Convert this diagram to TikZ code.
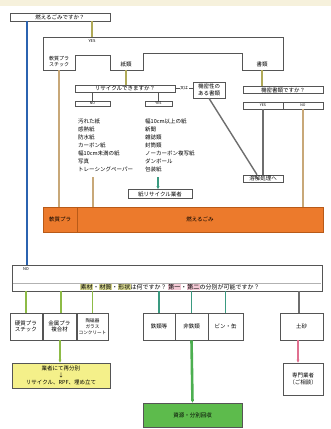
\documentclass[tikz,border=0pt]{standalone}
\usepackage{fontspec}
\setmainfont{Noto Sans CJK JP}
\usetikzlibrary{arrows.meta}
\definecolor{cream}{HTML}{F6F1DC}
\definecolor{olive}{HTML}{B0AA58}
\definecolor{tanl}{HTML}{C8A878}
\definecolor{bluel}{HTML}{2B63B0}
\definecolor{tealcol}{HTML}{3A9A80}
\definecolor{grayl}{HTML}{6E6E6E}
\definecolor{pinkl}{HTML}{E07090}
\definecolor{greenl}{HTML}{4CAF50}
\definecolor{greenf}{HTML}{5DBB4C}
\definecolor{yellowf}{HTML}{F4F08A}
\definecolor{orangef}{HTML}{EC7A2C}
\definecolor{oranged}{HTML}{B85A18}
\definecolor{boxd}{HTML}{555555}
\definecolor{hlA}{HTML}{D8D890}
\definecolor{hlB}{HTML}{F2C8D4}
\newcommand{\hlw}[2]{{\setlength{\fboxsep}{0.4pt}\colorbox{#1}{#2}}}
\begin{document}
\begin{tikzpicture}[x=1pt,y=-1pt,
  every node/.style={font=\fontsize{5.5}{6.5}\selectfont, inner sep=0pt},
  bx/.style={draw=boxd, line width=0.6pt, fill=white, minimum width=#1, align=center},
  lbl/.style={font=\fontsize{4}{5}\selectfont},
  olv/.style={draw=olive, line width=1.6pt},
  lolv/.style={draw=olive!80!green, line width=1.6pt},
  tanc/.style={draw=tanl, line width=1.6pt},
  tealln/.style={draw=tealcol, line width=1.6pt},
  grc/.style={draw=grayl, line width=1.4pt},
  thinln/.style={draw=boxd, line width=0.5pt},
  arr/.style={-{Stealth[length=3pt,width=3pt]}}
]
\useasboundingbox (0,0) rectangle (331,429);
\fill[white] (0,0) rectangle (331,429);
\fill[cream] (0,0) rectangle (331,6);

% ---------- upper part ----------
\node[bx=100pt, minimum height=8pt] (q1) at (60,17) {燃えるごみですか？};
\node[lbl] (yes1) at (92,41) {YES};

% branching container
\draw[boxd, line width=0.7pt] (43,37) -- (283,37) -- (283,70) -- (242,70) -- (242,53)
  -- (143,53) -- (143,70) -- (110,70) -- (110,55) -- (75,55) -- (75,70) -- (43,70) -- cycle;
\coordinate (ctop) at (92,37);
\coordinate (softTab) at (59,70);
\coordinate (paperTab) at (126,70);
\coordinate (docTab) at (262,70);
\node[align=left, font=\fontsize{5}{6}\selectfont] (soft) at (59,62) {軟質プラ\\スチック};
\node (paper) at (126,64.5) {紙類};
\node (doc) at (262,64.5) {書類};

\draw[olv] (q1.south -| ctop) -- (ctop);

% paper branch
\node[bx=100pt, minimum height=7pt] (recyc) at (125,88.5) {リサイクルできますか？};
\node[bx=35pt, minimum height=5pt, font=\fontsize{3.5}{4}\selectfont] (pno) at (92.5,103.5) {NO};
\node[bx=27pt, minimum height=5pt, font=\fontsize{3.5}{4}\selectfont] (pyes) at (158.5,103.5) {YES};
\draw[olv] (paperTab) -- (recyc.north -| paperTab);
\draw[thinln] (recyc.south -| pno) -- (pno.north);
\draw[thinln] (recyc.south -| pyes) -- (pyes.north);

\node[align=left, anchor=north west, font=\fontsize{5.5}{8}\selectfont] (listNo) at (78,119)
 {汚れた紙\\感熱紙\\防水紙\\カーボン紙\\幅10cm未満の紙\\写真\\トレーシングペーパー};
\node[align=left, anchor=north west, font=\fontsize{5.5}{8}\selectfont] (listYes) at (145,119)
 {幅10cm以上の紙\\新聞\\雑誌類\\封筒類\\ノーカーボン複写紙\\ダンボール\\包装紙};

\node[bx=64pt, minimum height=9pt, line width=0.9pt] (recBiz) at (160,194) {紙リサイクル業者};
\coordinate (tealTop) at (158,177);
\draw[tealln, arr] (tealTop) -- (recBiz.north -| tealTop);

\node[bx=32pt, minimum height=16pt, align=left] (kim) at (209,90) {機密性の\\ある書類};
\draw[thinln] (recyc.east) -- (recyc.east -| kim.west) node[midway, fill=white, inner sep=0.5pt, lbl] {又は};

% document branch
\node[bx=80pt, minimum height=7pt] (kq) at (283,90) {機密書類ですか？};
\node[bx=40pt, minimum height=7pt, font=\fontsize{3.5}{4}\selectfont] (kyes) at (263,105.5) {YES};
\node[bx=40pt, minimum height=7pt, font=\fontsize{3.5}{4}\selectfont] (kno) at (303,105.5) {NO};
\draw[olv] (docTab) -- (kq.north -| docTab);
\node[bx=40pt, minimum height=7pt] (youkai) at (263,178.5) {溶解処理へ};
\draw[grc] (kyes.south) -- (youkai.north);
\draw[grc] (kim.south) -- ([xshift=-6pt]youkai.north);

% orange bar
\node[draw=oranged, fill=orangef, line width=0.6pt, minimum width=34pt, minimum height=25pt] (orL) at (60,219.5) {軟質プラ};
\node[draw=oranged, fill=orangef, line width=0.6pt, minimum width=246pt, minimum height=25pt] (orR) at (200,219.5) {燃えるごみ};

\coordinate (tanTop) at (93,177);
\draw[tanc] (softTab) -- (softTab |- orL.north);
\draw[tanc] (tanTop) -- (tanTop |- orR.north);
\draw[tanc] (kno.south) -- (kno.south |- orR.north);

% ---------- lower part ----------
\coordinate (blueX) at (27,0);
\node[bx=310pt, minimum height=26pt] (q2) at (167,278) {};
\draw[gray!60, line width=0.4pt] (13,283.5) -- (321,283.5);
\node[lbl] (no2) at (26,269.5) {NO};
\node[font=\fontsize{6}{7}\selectfont] (q2t) at (170,287.3)
 {\hlw{hlA}{素材}・\hlw{hlA}{材質}・\hlw{hlA}{形状}は何ですか？\ \hlw{hlB}{第一}・\hlw{hlB}{第二}の分別が可能ですか？};
\draw[bluel, line width=2pt] (q1.south -| blueX) -- (q2.north -| blueX);

\node[bx=32pt, minimum height=27pt] (b1) at (26,326.5) {硬質プラ\\スチック};
\node[bx=33pt, minimum height=27pt] (b2) at (59.5,326.5) {金属プラ\\複合材};
\node[bx=31pt, minimum height=27pt, font=\fontsize{4.6}{5.8}\selectfont] (b3) at (92.5,326.5) {陶磁器\\ガラス\\コンクリート};
\node[bx=32pt, minimum height=27pt] (m1) at (159,326.5) {鉄類等};
\node[bx=33pt, minimum height=27pt] (m2) at (191.5,326.5) {非鉄類};
\node[bx=35pt, minimum height=27pt] (m3) at (225.5,326.5) {ビン・缶};
\node[bx=43pt, minimum height=27pt] (r1) at (301.5,326.5) {土砂};

\coordinate (x61) at (61,0);
\coordinate (x299) at (299,0);
\coordinate (x60) at (60,0);
\coordinate (x298) at (298,0);
\draw[lolv] (q2.south -| b1) -- (b1.north);
\draw[lolv] (q2.south -| x61) -- (b2.north -| x61);
\draw[lolv] (q2.south -| b3) -- (b3.north);
\draw[tealln] (q2.south -| m1) -- (m1.north);
\draw[tealln] (q2.south -| m2) -- (m2.north);
\draw[tealln] (q2.south -| m3) -- (m3.north);
\draw[grc] (q2.south -| x299) -- (r1.north -| x299);

\node[bx=98pt, minimum height=25pt, fill=yellowf, font=\fontsize{5.5}{7}\selectfont] (yb) at (61,375.5)
  {業者にて再分別\\↓\\リサイクル、RPF、埋め立て};
\node[bx=99pt, minimum height=24pt, fill=greenf] (gb) at (192.5,415) {資源・分別回収};
\node[bx=40pt, minimum height=32pt] (pb) at (303,379) {専門業者\\（ご相談）};

\draw[lolv, arr] (b2.south -| x60) -- (yb.north -| x60);
\draw[draw=greenl, line width=2.6pt, arr] (m2.south) -- (gb.north);
\draw[draw=pinkl, line width=1.6pt, arr] (r1.south -| x298) -- (pb.north -| x298);
\end{tikzpicture}
\end{document}
